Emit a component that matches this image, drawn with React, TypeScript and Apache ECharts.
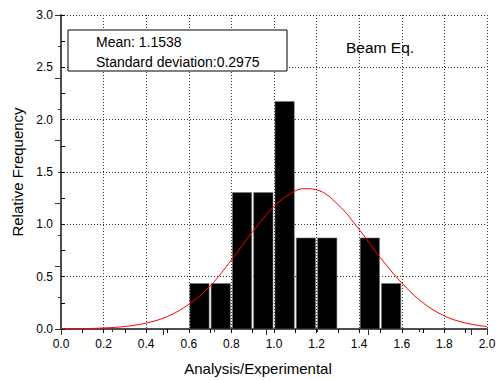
import React, { useEffect, useRef } from "react";
import * as echarts from "echarts";

// Histogram bins (lower edge, upper edge) and relative frequency
const binStarts = [0.6, 0.7, 0.8, 0.9, 1.0, 1.1, 1.2, 1.4, 1.5];
const binEnds = [0.7, 0.8, 0.9, 1.0, 1.1, 1.2, 1.3, 1.5, 1.6];
const binHeights = [0.435, 0.435, 1.304, 1.304, 2.174, 0.87, 0.87, 0.87, 0.435];

// Fitted normal curve
const curveX = [0.0, 0.1, 0.2, 0.3, 0.4, 0.5, 0.6, 0.7, 0.8, 0.9, 1.0, 1.1, 1.15, 1.2, 1.3, 1.4, 1.5, 1.6, 1.7, 1.8, 1.9, 2.0];
const curveY = [0.0, 0.003, 0.01, 0.024, 0.057, 0.12, 0.236, 0.41, 0.66, 0.93, 1.17, 1.32, 1.34, 1.33, 1.19, 0.95, 0.68, 0.44, 0.25, 0.125, 0.057, 0.023];

const xTickLabels = ["0.0", "0.2", "0.4", "0.6", "0.8", "1.0", "1.2", "1.4", "1.6", "1.8", "2.0"];
const yTickLabels = ["0.0", "0.5", "1.0", "1.5", "2.0", "2.5", "3.0"];

const meanText = "Mean: 1.1538";
const sdText = "Standard deviation:0.2975";
const titleText = "Beam Eq.";
const xTitle = "Analysis/Experimental";
const yTitle = "Relative Frequency";

const FONT = "Liberation Sans, Arial, Helvetica, sans-serif";

export default function App() {
  const ref = useRef<HTMLDivElement>(null);
  useEffect(() => {
    if (!ref.current) return;
    const chart = echarts.init(ref.current, null, { renderer: "svg" });
    const barData = binStarts.map((s, i) => [s, binEnds[i], binHeights[i]]);
    const lineData = curveX.map((x, i) => [x, curveY[i]]);
    const grid = { left: 61, right: 17, top: 15, bottom: 51, containLabel: false };
    const gridLine = { show: true, lineStyle: { color: "#333", width: 1, type: [1, 2] as any } };
    chart.setOption({
      animation: false,
      backgroundColor: "#fff",
      grid,
      xAxis: [
        {
          type: "value",
          position: "bottom",
          min: 0,
          max: 2,
          interval: 0.2,
          axisLine: { show: true, lineStyle: { color: "#000", width: 1.5 } },
          axisTick: { show: true, inside: false, length: 4, lineStyle: { color: "#000" } },
          minorTick: { show: true, splitNumber: 2, length: 4, lineStyle: { color: "#000" } },
          axisLabel: {
            fontFamily: FONT,
            fontSize: 12,
            color: "#000",
            margin: 9,
            formatter: (v: number) => xTickLabels[Math.round(v / 0.2)] ?? "",
          },
          splitLine: gridLine,
        },
        {
          type: "value",
          position: "top",
          min: 0,
          max: 4.158,
          interval: 1,
          axisLine: { show: true, lineStyle: { color: "#555", width: 1.5 } },
          axisTick: { show: true, inside: true, length: 6, lineStyle: { color: "#333" } },
          minorTick: { show: true, splitNumber: 2, length: 3, lineStyle: { color: "#333" } },
          axisLabel: { show: false },
          splitLine: { show: false },
        },
      ],
      yAxis: [
        {
          type: "value",
          position: "left",
          min: 0,
          max: 3,
          interval: 0.5,
          name: yTitle,
          nameLocation: "middle",
          nameGap: 34,
          nameRotate: 90,
          nameTextStyle: { fontFamily: FONT, fontSize: 15, color: "#000" },
          axisLine: { show: true, lineStyle: { color: "#000", width: 1.5 } },
          axisTick: { show: true, inside: true, length: 4, lineStyle: { color: "#000" } },
          minorTick: { show: true, splitNumber: 2, length: 4, lineStyle: { color: "#000" } },
          axisLabel: {
            fontFamily: FONT,
            fontSize: 12,
            color: "#000",
            margin: 8,
            formatter: (v: number) => yTickLabels[Math.round(v / 0.5)] ?? "",
          },
          splitLine: gridLine,
        },
        {
          type: "value",
          position: "right",
          min: 0,
          max: 5,
          interval: 1,
          axisLine: { show: true, lineStyle: { color: "#555", width: 1.5 } },
          axisTick: { show: true, inside: true, length: 6, lineStyle: { color: "#333" } },
          minorTick: { show: true, splitNumber: 2, length: 3, lineStyle: { color: "#333" } },
          axisLabel: { show: false },
          splitLine: { show: false },
        },
      ],
      series: [
        {
          type: "custom",
          xAxisIndex: 0,
          yAxisIndex: 0,
          encode: { x: [0, 1], y: 2 },
          data: barData,
          z: 3,
          renderItem: (params: any, api: any) => {
            const p0 = api.coord([api.value(0), api.value(2)]);
            const p1 = api.coord([api.value(1), 0]);
            return {
              type: "rect",
              shape: { x: p0[0] + 1, y: p0[1], width: p1[0] - p0[0] - 2, height: p1[1] - p0[1] },
              style: { fill: "#000", stroke: "#777", lineWidth: 0.6 },
            };
          },
        },
        {
          type: "line",
          xAxisIndex: 0,
          yAxisIndex: 0,
          data: lineData,
          smooth: 0.4,
          showSymbol: false,
          symbol: "none",
          z: 4,
          lineStyle: { color: "#ff0000", width: 1 },
        },
      ],
      graphic: [
        {
          type: "rect",
          shape: { x: 68, y: 30, width: 219, height: 41 },
          style: { fill: "#fff", stroke: "#000", lineWidth: 1 },
          z: 10,
        },
        {
          type: "text",
          x: 96,
          y: 42,
          z: 11,
          style: { text: meanText, fontFamily: FONT, fontSize: 14, fill: "#000", verticalAlign: "middle" },
        },
        {
          type: "text",
          x: 96,
          y: 62,
          z: 11,
          style: { text: sdText, fontFamily: FONT, fontSize: 14, fill: "#000", verticalAlign: "middle" },
        },
        {
          type: "text",
          x: 346,
          y: 47,
          z: 11,
          style: { text: titleText, fontFamily: FONT, fontSize: 15.5, fill: "#000", verticalAlign: "middle" },
        },
        {
          type: "text",
          x: 258,
          y: 368,
          z: 11,
          style: { text: xTitle, fontFamily: FONT, fontSize: 15, fill: "#000", align: "center", verticalAlign: "middle" },
        },
      ],
    });
    return () => chart.dispose();
  }, []);
  return (
    <div
      ref={ref}
      style={{ position: "fixed", left: 0, top: 0, width: 504, height: 380, background: "#fff" }}
    />
  );
}
